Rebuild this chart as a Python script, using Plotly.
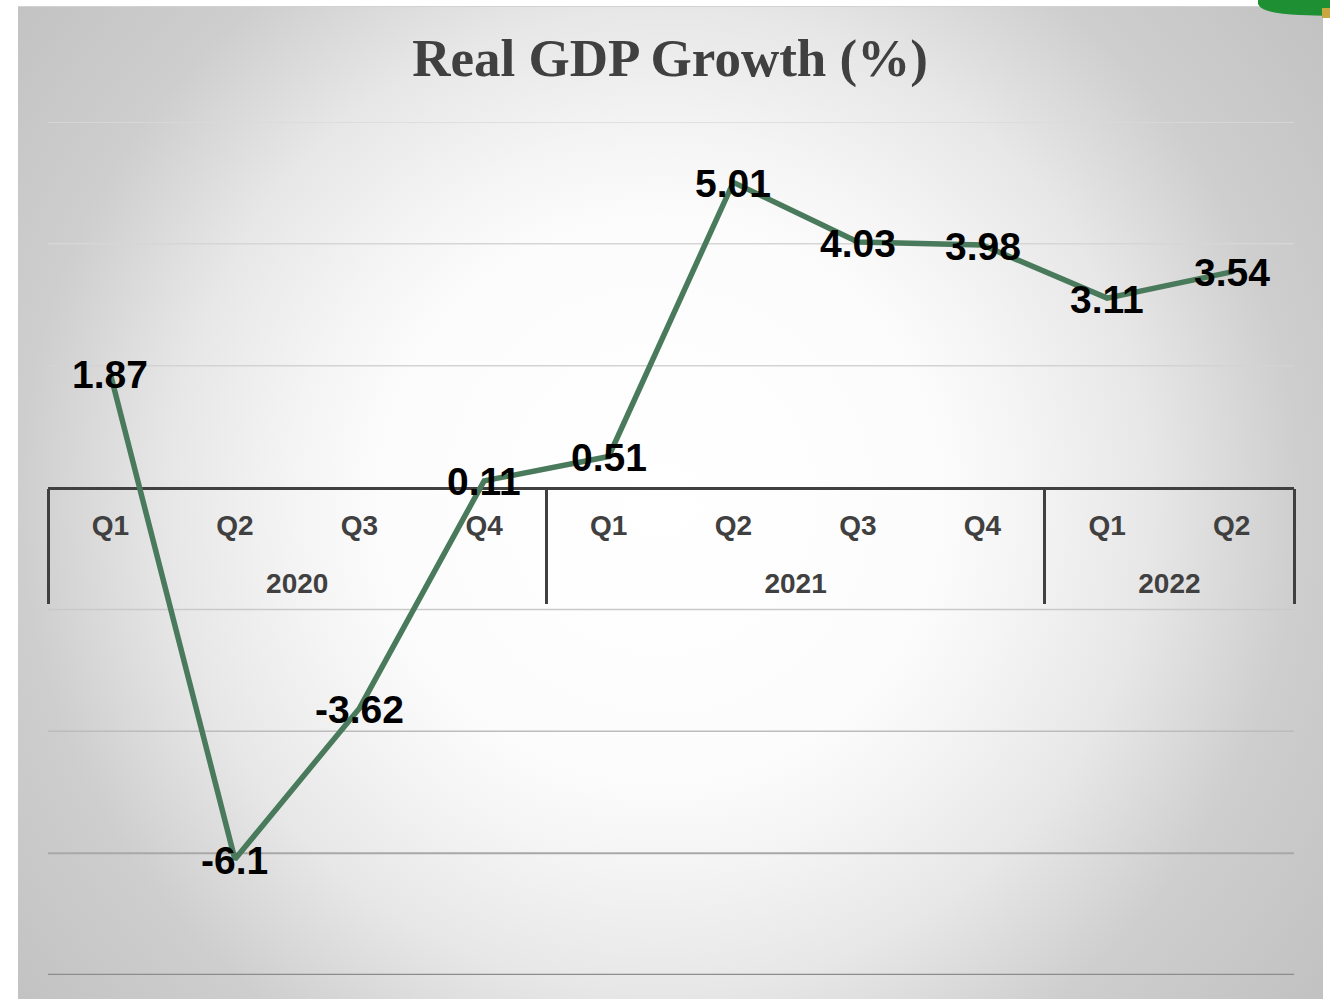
import base64
import plotly.graph_objects as go

# Quarterly real GDP growth, %
years = ["2020", "2020", "2020", "2020", "2021", "2021", "2021", "2021", "2022", "2022"]
quarters = ["Q1", "Q2", "Q3", "Q4", "Q1", "Q2", "Q3", "Q4", "Q1", "Q2"]
gdp_growth = [1.87, -6.1, -3.62, 0.11, 0.51, 5.01, 4.03, 3.98, 3.11, 3.54]

# Horizontal guide lines (value, colour, width) - they darken towards the bottom
grid_values = [6, 4, 2, -2, -4, -6, -8]
grid_colors = ["#dadada", "#d6d6d6", "#d3d3d3", "#c9c9c9", "#bcbcbc", "#a8a8a8", "#8c8c8c"]
grid_widths = [1.5, 1.5, 1.5, 1.5, 1.5, 2, 2.5]

W, H = 1330, 999
# plot area in pixels
PX0, PX1, PY0, PY1 = 48, 1294, 122, 975
Y_MIN, Y_MAX = -8, 6

x_dom = [PX0 / W, PX1 / W]
y_dom = [1 - PY1 / H, 1 - PY0 / H]
zero_pos = y_dom[0] + (0 - Y_MIN) / (Y_MAX - Y_MIN) * (y_dom[1] - y_dom[0])

# positions along the category axis
pos = list(range(len(quarters)))
year_names = list(dict.fromkeys(years))
year_centers = [sum(p for p, y in zip(pos, years) if y == yr) / years.count(yr) for yr in year_names]
year_edges = [pos[0] - 0.5] + [p + 0.5 for p, a, b in zip(pos, years, years[1:]) if a != b] + [pos[-1] + 0.5]
x_range = [pos[0] - 0.5, pos[-1] + 0.5]

# radial grey-to-white backdrop as an SVG gradient
BX0, BY0, BX1, BY1 = 18, 6, 1323, 999
bw, bh = BX1 - BX0, BY1 - BY0
svg = f"""<svg xmlns="http://www.w3.org/2000/svg" width="{bw}" height="{bh}" viewBox="0 0 {bw} {bh}" preserveAspectRatio="none">
<defs><radialGradient id="g" gradientUnits="userSpaceOnUse" cx="{660 - BX0}" cy="{500 - BY0}" r="820">
<stop offset="0" stop-color="#ffffff"/>
<stop offset="0.34" stop-color="#fcfcfc"/>
<stop offset="0.45" stop-color="#f4f4f4"/>
<stop offset="0.6" stop-color="#e7e7e7"/>
<stop offset="0.78" stop-color="#cecece"/>
<stop offset="1" stop-color="#c2c2c2"/>
</radialGradient></defs>
<rect x="0" y="0" width="{bw}" height="{bh}" fill="url(#g)"/>
<line x1="0" y1="0.5" x2="{bw}" y2="0.5" stroke="#d2d2d2" stroke-width="1"/>
</svg>"""
svg_uri = "data:image/svg+xml;base64," + base64.b64encode(svg.encode()).decode()

LABEL_FONT = "Liberation Sans, Arial, sans-serif"
AXIS_COLOR = "#404040"

fig = go.Figure()

# invisible carriers so the year-label and divider axes get drawn
for ax in ("x2", "x3"):
    fig.add_trace(go.Scatter(x=x_range, y=[None, None], xaxis=ax, yaxis="y",
                             mode="lines", hoverinfo="skip", showlegend=False))

fig.add_trace(go.Scatter(
    x=pos,
    y=gdp_growth,
    mode="lines",
    line=dict(color="#497a5b", width=5.5),
    cliponaxis=False,
    hoverinfo="skip",
    showlegend=False,
))

# value labels centred on each point
annotations = [
    dict(x=p, y=v, xref="x", yref="y", text=f"{v:g}", showarrow=False,
         xanchor="center", yanchor="middle", yshift=-1,
         font=dict(family=LABEL_FONT, size=39, color="#000000", weight="bold"))
    for p, v in zip(pos, gdp_growth)
]

shapes = []
for v, c, w in zip(grid_values, grid_colors, grid_widths):
    shapes.append(dict(type="line", xref="x domain", yref="y", x0=0, x1=1, y0=v, y1=v,
                       line=dict(color=c, width=w), layer="below"))

# small green ornament cut off at the top-right corner
shapes.append(dict(type="path", xref="paper", yref="paper",
                   path=f"M {1258/W} {1-0/H} L {1330/W} {1-0/H} L {1330/W} {1-16/H} "
                        f"L {1300/W} {1-15/H} Q {1262/W} {1-14/H} {1258/W} {1-4/H} Z",
                   fillcolor="#1f8f34", line=dict(width=0), layer="above"))
shapes.append(dict(type="rect", xref="paper", yref="paper",
                   x0=1322 / W, x1=1330 / W, y0=1 - 18 / H, y1=1 - 8 / H,
                   fillcolor="#c9a640", line=dict(width=0), layer="above"))

tick_font = dict(family=LABEL_FONT, size=28, color=AXIS_COLOR, weight="bold")

fig.update_layout(
    width=W, height=H,
    margin=dict(l=0, r=0, t=0, b=0),
    paper_bgcolor="#ffffff",
    plot_bgcolor="rgba(0,0,0,0)",
    title=dict(
        text="Real GDP Growth (%)",
        x=670 / W, xanchor="center",
        y=1 - 57 / H, yanchor="middle",
        font=dict(family="Liberation Serif, Times New Roman, serif", size=53, color=AXIS_COLOR, weight="bold"),
    ),
    images=[dict(source=svg_uri, xref="paper", yref="paper",
                 x=BX0 / W, y=1 - BY0 / H, sizex=bw / W, sizey=bh / H,
                 xanchor="left", yanchor="top", sizing="stretch", layer="below")],
    shapes=shapes,
    annotations=annotations,
    # quarter labels on the zero line
    xaxis=dict(
        domain=x_dom, range=x_range,
        anchor="free", position=zero_pos,
        showline=True, linecolor=AXIS_COLOR, linewidth=3,
        showgrid=False, zeroline=False, layer="below traces",
        tickmode="array", tickvals=pos, ticktext=quarters,
        ticks="outside", ticklen=12, tickcolor="rgba(0,0,0,0)",
        tickfont=tick_font,
    ),
    # year labels below the quarters
    xaxis2=dict(
        overlaying="x", range=x_range,
        anchor="free", position=zero_pos,
        showline=False, showgrid=False, zeroline=False, layer="below traces",
        tickmode="array", tickvals=year_centers, ticktext=year_names,
        ticks="outside", ticklen=71, tickcolor="rgba(0,0,0,0)",
        tickfont=tick_font,
    ),
    # dividers between the year groups
    xaxis3=dict(
        overlaying="x", range=x_range,
        anchor="free", position=zero_pos,
        showline=False, showgrid=False, zeroline=False, layer="below traces",
        tickmode="array", tickvals=year_edges, showticklabels=False,
        ticks="outside", ticklen=115, tickwidth=3, tickcolor=AXIS_COLOR,
    ),
    yaxis=dict(
        domain=y_dom,
        range=[Y_MIN, Y_MAX],
        showgrid=False, zeroline=False, showline=False,
        showticklabels=False, ticks="",
    ),
)

fig.write_html("out.html")
